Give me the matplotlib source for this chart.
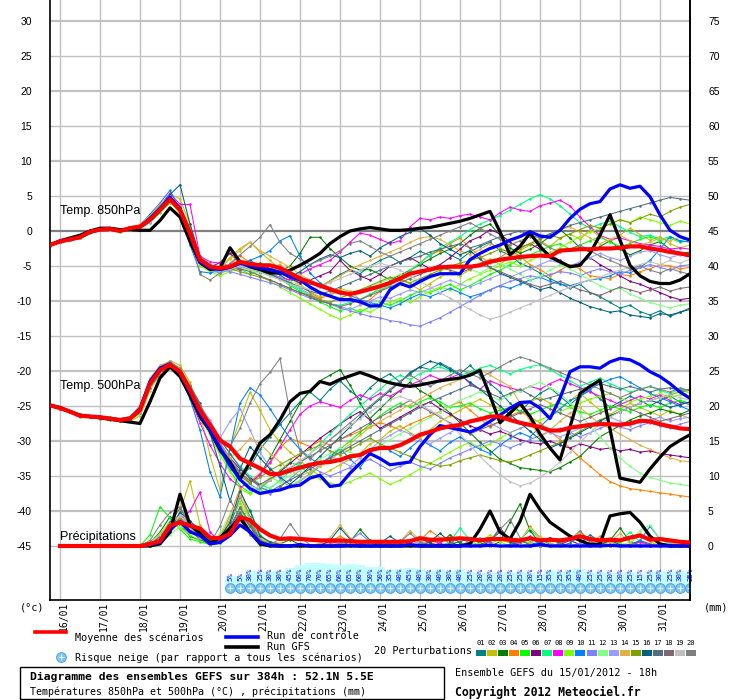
import matplotlib
matplotlib.use("Agg")
import matplotlib.pyplot as plt
from matplotlib.lines import Line2D
from matplotlib.patches import Rectangle
import matplotlib.transforms as mtransforms

# ---------------- DATA ----------------
hours = list(range(0, 385, 6))          # 15/01 18h + 0..384h
hours_p = hours[1:]                      # precipitation starts at +6h
day_labels = ["16/01", "17/01", "18/01", "19/01", "20/01", "21/01", "22/01", "23/01",
              "24/01", "25/01", "26/01", "27/01", "28/01", "29/01", "30/01", "31/01"]
day_hours = [6, 30, 54, 78, 102, 126, 150, 174, 198, 222, 246, 270, 294, 318, 342, 366]

snow_hours = list(range(108, 385, 6))
snow_pct = [5, 5, 30, 25, 30, 30, 45, 60, 70, 70, 65, 60, 65, 60, 50, 50, 35, 40, 45, 40,
            30, 40, 30, 40, 25, 20, 20, 20, 25, 25, 20, 15, 35, 25, 35, 40, 25, 25, 20, 20,
            25, 15, 25, 30, 25, 30, 25]

pert_colors = ['#008080', '#c0c000', '#008000', '#ff8000', '#00ff00', '#800080', '#00ff80',
               '#ff00ff', '#80ff00', '#0080ff', '#8080ff', '#80ff80', '#9a9aff', '#e0b040',
               '#80a000', '#006080', '#507080', '#806870', '#c0c0c0', '#808080']

# ---- 850 hPa temperature (°C)
t850_mean = [-2.0,-1.5,-1.2,-0.9,-0.1,0.2,0.3,0.0,0.4,0.6,
             1.6,3.0,4.5,3.0,-0.3,-4.1,-5.1,-5.3,-5.1,-4.4,
             -4.7,-4.9,-4.9,-5.3,-6.0,-6.8,-7.3,-7.8,-8.3,-8.8,
             -9.0,-8.7,-8.3,-7.9,-7.4,-6.8,-6.1,-5.8,-5.5,-5.2,
             -5.1,-5.1,-5.1,-4.9,-4.4,-4.1,-3.9,-3.7,-3.6,-3.5,
             -3.6,-2.8,-2.7,-2.6,-2.6,-2.5,-2.5,-2.4,-2.2,-2.2,
             -2.5,-2.7,-3.0,-3.2,-3.5]
t850_ctrl = [-2.0,-1.5,-1.2,-0.9,-0.2,0.2,0.3,0.0,0.4,0.6,
             1.8,3.2,4.8,3.2,-0.5,-4.5,-5.3,-5.5,-5.2,-4.6,
             -5.0,-5.3,-5.5,-5.9,-6.5,-7.0,-8.0,-8.8,-9.3,-9.8,
             -9.8,-10.1,-10.7,-10.7,-8.4,-7.5,-8.0,-7.2,-6.5,-6.1,
             -6.1,-6.1,-4.1,-3.2,-2.5,-2.0,-1.3,-0.8,-0.1,-0.7,
             -0.9,0.1,1.8,3.1,3.9,4.2,6.0,6.6,6.1,6.4,
             4.9,2.3,0.1,-0.8,-1.3]
t850_gfs = [-2.0,-1.4,-1.0,-0.6,0.0,0.4,0.4,0.2,0.2,0.1,
            0.1,1.5,3.3,2.0,-1.5,-4.5,-5.5,-5.3,-2.4,-4.4,
            -5.1,-5.5,-6.0,-6.0,-5.6,-4.9,-4.1,-3.2,-1.8,-0.8,
            0.0,0.3,0.5,0.3,0.1,0.1,0.2,0.4,0.5,0.8,
            1.1,1.4,1.8,2.3,2.8,-0.1,-3.4,-2.2,-0.3,-2.2,
            -3.7,-4.4,-5.1,-4.9,-3.2,-0.6,2.3,-1.3,-4.9,-6.4,
            -7.2,-7.5,-7.5,-7.0,-6.1]

p01_t850 = [-2.0,-1.4,-1.1,-0.8,0.0,0.3,0.4,0.1,0.5,0.8,
            2.0,3.6,5.0,3.4,0.2,-4.2,-5.0,-5.5,-5.2,-4.6,
            -4.2,-5.0,-5.6,-6.3,-7.2,-6.5,-7.4,-8.0,-7.1,-6.2,
            -5.5,-6.1,-5.0,-4.2,-3.6,-4.5,-3.8,-2.9,-3.5,-2.6,
            -3.4,-4.1,-3.0,-2.2,-1.6,-2.8,-3.5,-4.6,-5.2,-6.0,
            -6.8,-7.5,-8.2,-7.6,-8.8,-9.4,-10.2,-11.0,-10.6,-11.5,
            -12.0,-11.4,-12.2,-11.6,-11.0]
p02_t850 = [-2.1,-1.6,-1.3,-1.0,-0.3,0.1,0.2,0.1,0.3,0.5,
            1.5,3.2,5.3,4.6,1.0,-3.5,-4.8,-5.2,-3.8,-2.5,
            -1.6,-3.0,-4.2,-5.5,-6.6,-7.8,-8.7,-9.4,-9.0,-8.2,
            -8.6,-9.8,-9.2,-8.0,-7.4,-6.8,-7.6,-8.4,-7.5,-6.6,
            -5.8,-6.4,-5.5,-4.6,-4.0,-4.8,-3.6,-2.8,-2.0,-1.4,
            -2.2,-1.0,-0.4,-1.2,0.2,-0.8,-1.6,-0.6,0.4,-0.5,
            -1.3,-0.8,-1.8,-2.4,-2.0]
p03_t850 = [-2.0,-1.5,-1.1,-0.9,-0.2,0.1,0.3,0.0,0.3,0.6,
            1.3,2.8,4.2,2.8,-1.0,-4.8,-5.6,-5.8,-5.0,-4.5,
            -5.0,-4.6,-5.4,-5.8,-5.0,-3.2,-0.9,-0.9,-2.5,-3.8,
            -5.0,-5.6,-5.5,-6.2,-7.0,-6.3,-5.6,-4.8,-4.0,-3.2,
            -2.6,-1.8,-0.6,0.4,1.0,-0.6,-2.4,-3.2,-2.6,-1.8,
            -0.8,0.2,-1.0,-2.4,-3.0,-2.2,-1.4,-2.6,-3.4,-2.8,
            -2.0,-1.5,-2.6,-3.2,-3.0]
p04_t850 = [-1.9,-1.3,-1.0,-0.7,0.1,0.4,0.5,0.2,0.6,0.9,
            2.2,3.4,4.4,2.6,-1.2,-5.0,-5.4,-5.6,-4.8,-3.5,
            -4.5,-6.0,-5.5,-4.8,-6.2,-7.6,-8.8,-9.6,-9.2,-8.4,
            -9.4,-10.4,-9.8,-8.6,-7.6,-6.4,-5.8,-4.5,-3.4,-2.8,
            -1.8,-1.0,-2.4,-3.6,-4.6,-3.8,-2.8,-3.6,-4.8,-5.5,
            -6.4,-5.6,-4.8,-5.4,-6.4,-6.6,-6.8,-6.2,-6.4,-5.8,
            -5.4,-4.8,-5.0,-5.4,-5.2]
p05_t850 = [-2.0,-1.5,-1.2,-1.0,-0.3,0.1,0.2,-0.1,0.2,0.4,
            1.2,2.6,4.0,3.2,0.5,-3.8,-5.6,-6.0,-5.5,-5.0,
            -5.4,-5.8,-6.2,-6.8,-7.8,-8.6,-9.4,-10.2,-10.8,-11.4,
            -11.0,-11.6,-10.8,-10.2,-10.6,-10.0,-9.2,-8.6,-8.8,-8.2,
            -7.6,-8.4,-7.8,-7.0,-6.2,-5.6,-4.8,-4.0,-3.4,-2.8,
            -2.2,-1.8,-2.6,-2.0,-1.4,-0.8,-1.6,-2.2,-1.8,-1.2,
            -0.8,-1.4,-1.0,-1.6,-1.4]
p06_t850 = [-2.0,-1.4,-1.2,-0.8,-0.1,0.2,0.4,0.1,0.5,0.7,
            1.8,3.3,4.8,3.6,-0.4,-4.2,-5.2,-4.5,-3.2,-4.6,
            -4.8,-5.2,-5.6,-6.0,-6.8,-7.4,-7.0,-6.4,-5.8,-4.2,
            -5.6,-6.4,-7.0,-6.2,-5.0,-4.4,-3.8,-4.6,-5.4,-4.8,
            -3.8,-2.6,-1.4,-0.8,0.2,-0.4,-1.6,-2.4,-1.8,-2.6,
            -3.4,-4.2,-5.0,-4.6,-3.8,-4.8,-5.6,-6.4,-7.2,-7.6,
            -8.2,-8.8,-9.4,-9.8,-9.6]
p07_t850 = [-2.1,-1.6,-1.3,-0.9,-0.2,0.1,0.2,0.0,0.4,0.6,
            1.4,3.0,4.6,3.2,0.0,-4.4,-5.4,-5.8,-5.6,-5.4,
            -6.2,-5.6,-6.0,-6.6,-7.6,-8.4,-9.2,-10.0,-10.4,-10.6,
            -10.2,-9.8,-9.0,-8.4,-7.8,-6.8,-5.6,-4.6,-3.4,-2.4,
            -1.6,-0.8,0.2,1.0,1.6,2.2,3.0,3.8,4.6,5.2,
            4.6,3.6,2.4,1.2,0.4,1.0,1.4,0.6,-0.2,-0.8,
            -0.6,-1.2,-0.8,-1.4,-1.0]
p08_t850 = [-2.0,-1.5,-1.1,-0.8,-0.1,0.3,0.4,0.2,0.4,0.7,
            1.9,3.6,5.4,3.8,3.8,-3.6,-4.4,-4.6,-5.0,-5.6,
            -5.0,-5.8,-6.2,-6.6,-7.0,-6.2,-5.4,-4.8,-4.2,-3.0,
            -1.6,-0.3,-0.6,-1.2,-1.8,-1.4,0.6,1.8,1.6,2.0,
            1.8,2.2,2.4,2.0,1.6,2.6,3.4,3.0,2.8,3.6,
            4.0,4.4,3.6,2.0,0.6,-0.6,-1.2,-1.0,-1.4,-1.8,
            -2.0,-2.2,-2.6,-2.4,-2.6]
p09_t850 = [-2.0,-1.6,-1.2,-1.0,-0.2,0.2,0.3,-0.1,0.3,0.5,
            1.5,3.1,4.3,2.4,-1.4,-5.0,-5.8,-6.4,-5.8,-5.2,
            -5.6,-6.4,-7.2,-8.0,-8.8,-9.6,-10.4,-11.2,-12.0,-12.6,
            -12.0,-11.2,-11.6,-10.8,-10.2,-9.6,-10.2,-9.4,-8.6,-8.0,
            -8.4,-7.6,-6.8,-6.2,-5.6,-5.0,-4.4,-5.0,-4.2,-3.6,
            -3.0,-2.4,-1.6,-0.8,-0.2,0.4,1.0,1.6,1.2,2.0,
            1.6,1.2,0.8,1.4,1.0]
p10_t850 = [-2.0,-1.5,-1.2,-0.9,-0.1,0.2,0.3,0.1,0.4,0.8,
            2.4,4.0,5.8,3.0,-2.0,-5.8,-6.0,-5.6,-5.2,-4.8,
            -4.2,-3.6,-2.8,-1.4,-0.7,-3.6,-6.0,-7.4,-8.2,-8.8,
            -9.2,-9.8,-10.2,-10.6,-11.0,-10.4,-9.6,-9.0,-9.4,-8.8,
            -8.2,-8.8,-9.4,-9.0,-8.4,-7.8,-8.2,-7.6,-7.0,-6.6,
            -7.2,-7.6,-7.8,-7.4,-7.0,-6.8,-6.4,-5.8,-6.0,-5.2,
            -4.2,-2.6,-0.8,-1.4,-1.6]
p11_t850 = [-1.9,-1.4,-1.0,-0.8,0.1,0.3,0.4,0.1,0.5,0.7,
            1.7,3.2,4.6,3.4,0.2,-4.0,-5.0,-5.4,-5.8,-6.2,
            -6.6,-7.0,-7.4,-7.8,-8.4,-9.0,-9.6,-10.0,-10.4,-11.0,
            -11.4,-11.8,-12.2,-12.4,-12.8,-13.0,-13.4,-13.6,-13.0,-12.4,
            -11.6,-10.8,-10.0,-9.2,-8.4,-7.8,-7.2,-6.8,-6.4,-6.6,
            -6.2,-5.8,-6.0,-6.4,-5.8,-5.4,-5.8,-6.2,-5.6,-5.2,
            -4.8,-5.2,-5.6,-5.0,-4.8]
p12_t850 = [-2.0,-1.5,-1.2,-0.9,-0.2,0.1,0.3,0.0,0.4,0.6,
            1.6,3.0,4.2,2.6,-1.0,-4.6,-5.4,-5.6,-5.4,-5.2,
            -5.6,-6.0,-6.4,-6.8,-7.2,-7.8,-8.4,-9.0,-9.2,-9.6,
            -9.0,-8.6,-8.0,-7.4,-6.8,-6.2,-6.8,-7.4,-6.6,-5.8,
            -5.2,-4.6,-5.4,-6.0,-5.2,-4.6,-5.4,-6.2,-7.0,-6.4,
            -5.6,-4.8,-5.4,-6.2,-7.0,-7.8,-8.4,-8.2,-9.0,-9.6,
            -10.2,-10.6,-11.0,-10.6,-10.4]
p13_t850 = [-2.1,-1.6,-1.3,-1.0,-0.2,0.1,0.3,0.0,0.3,0.5,
            1.2,2.8,4.4,3.0,-0.6,-4.4,-5.6,-6.0,-5.6,-5.0,
            -5.2,-5.6,-6.0,-6.6,-7.4,-8.2,-9.0,-9.8,-10.4,-10.8,
            -11.2,-10.6,-10.0,-9.4,-9.6,-9.0,-8.4,-8.8,-8.2,-7.6,
            -7.0,-7.6,-8.0,-7.4,-6.8,-6.2,-6.6,-6.0,-5.4,-4.8,
            -4.2,-4.6,-5.0,-4.4,-3.8,-3.2,-3.8,-4.2,-3.6,-3.0,
            -2.8,-3.4,-3.8,-3.4,-3.6]
p14_t850 = [-2.0,-1.5,-1.1,-0.8,0.0,0.3,0.5,0.2,0.5,0.9,
            2.2,3.8,5.0,3.6,0.6,-3.8,-5.0,-5.4,-4.0,-2.8,
            -1.6,-2.8,-3.6,-4.4,-5.2,-6.2,-7.0,-7.8,-7.2,-6.4,
            -5.6,-4.8,-4.2,-3.6,-3.0,-2.4,-1.6,-1.0,-0.8,-1.2,
            -2.0,-2.8,-3.4,-2.6,-1.8,-2.4,-3.2,-2.6,-1.8,-1.0,
            -0.4,0.2,0.6,-0.2,-1.0,-1.8,-1.2,-0.6,-1.4,-2.0,
            -1.6,-1.0,-1.4,-0.8,-1.2]
p15_t850 = [-2.0,-1.5,-1.2,-0.9,-0.1,0.2,0.3,0.0,0.3,0.6,
            1.6,3.0,4.4,3.0,-0.4,-4.2,-5.2,-5.6,-5.4,-5.8,
            -6.2,-6.6,-7.0,-7.6,-8.2,-8.8,-9.2,-9.8,-10.2,-9.6,
            -9.0,-8.4,-7.8,-7.2,-6.6,-7.0,-7.4,-6.8,-6.2,-5.6,
            -5.0,-4.6,-4.2,-3.8,-3.2,-2.6,-3.0,-2.4,-1.8,-1.2,
            -0.6,-1.0,-0.4,0.2,0.8,0.4,1.0,1.6,1.2,1.8,
            2.4,2.0,2.8,3.4,3.8]
p16_t850 = [-2.0,-1.4,-1.1,-0.8,0.0,0.3,0.5,0.2,0.5,0.7,
            1.8,3.4,5.2,6.6,1.0,-3.8,-4.8,-5.4,-5.0,-4.6,
            -5.2,-5.8,-5.4,-6.0,-6.6,-5.8,-4.8,-4.0,-3.4,-3.8,
            -3.2,-2.8,-3.6,-2.4,-1.6,-0.8,-0.2,0.4,-0.6,-1.8,
            -2.6,-3.4,-2.8,-4.0,-5.2,-6.0,-6.6,-7.2,-7.8,-8.4,
            -8.0,-8.8,-9.6,-10.2,-10.8,-11.2,-11.6,-11.4,-12.0,-12.2,
            -12.4,-11.8,-12.0,-11.6,-11.2]
p17_t850 = [-2.0,-1.5,-1.2,-0.9,-0.2,0.2,0.3,0.1,0.4,0.6,
            1.6,3.2,4.6,3.2,0.0,-4.2,-5.2,-5.4,-5.2,-5.0,
            -5.4,-5.8,-6.2,-6.8,-7.4,-8.0,-8.6,-9.0,-8.6,-8.0,
            -7.4,-6.8,-6.2,-5.6,-5.0,-4.4,-4.0,-3.6,-3.0,-2.6,
            -2.2,-1.8,-2.4,-2.0,-1.4,-0.8,-0.4,0.0,-0.6,-1.0,
            -0.4,0.2,0.8,1.2,1.6,2.0,2.4,2.8,3.2,3.6,
            4.0,4.4,4.8,4.6,4.4]
p18_t850 = [-2.0,-1.5,-1.1,-0.9,-0.1,0.2,0.4,0.1,0.4,0.7,
            1.7,3.1,4.6,3.4,0.2,-4.0,-5.0,-5.2,-5.0,-5.4,
            -5.8,-6.4,-7.0,-7.6,-8.2,-8.8,-9.4,-10.0,-10.4,-10.8,
            -10.4,-9.8,-9.2,-8.6,-8.0,-7.4,-6.8,-6.2,-5.6,-5.2,
            -5.6,-6.0,-5.4,-4.8,-5.2,-5.8,-6.4,-7.0,-7.6,-8.0,
            -7.6,-7.2,-7.8,-8.4,-8.8,-9.2,-8.6,-8.0,-8.4,-8.8,
            -8.4,-8.0,-8.6,-8.2,-8.0]
p19_t850 = [-2.0,-1.5,-1.2,-0.9,-0.2,0.1,0.2,0.0,0.3,0.5,
            1.4,2.8,4.2,2.8,-0.8,-4.4,-5.4,-5.8,-5.4,-5.0,
            -5.4,-5.8,-6.4,-7.0,-7.6,-8.0,-8.4,-8.0,-7.4,-6.8,
            -6.2,-5.6,-5.0,-4.6,-5.0,-5.6,-6.4,-7.2,-8.0,-8.8,
            -9.6,-10.4,-11.2,-12.0,-12.6,-12.2,-11.6,-11.0,-10.4,-9.8,
            -9.2,-8.6,-8.0,-7.4,-7.0,-6.6,-6.0,-5.6,-5.2,-4.8,
            -4.4,-4.8,-4.2,-4.6,-4.0]
p20_t850 = [-2.0,-1.4,-1.1,-0.7,0.0,0.3,0.5,0.2,0.6,0.8,
            2.0,3.6,5.0,3.4,-0.6,-6.2,-7.0,-6.0,-4.6,-3.4,
            -2.2,-0.9,0.9,-1.6,-3.2,-4.0,-4.8,-4.2,-3.6,-2.8,
            -1.8,-1.4,-2.2,-3.0,-3.6,-3.0,-2.4,-1.8,-1.2,-0.6,
            0.0,0.6,1.2,0.4,-0.4,-1.2,-2.0,-1.4,-0.8,-1.6,
            -2.4,-3.0,-2.6,-2.0,-2.8,-3.6,-4.2,-4.8,-5.4,-5.0,
            -5.6,-6.0,-5.4,-5.8,-6.2]

# ---- 500 hPa temperature (°C)
t500_mean = [-24.9,-25.3,-25.8,-26.4,-26.5,-26.6,-26.8,-27.0,-26.8,-25.6,
             -21.8,-19.9,-19.1,-20.1,-22.7,-25.6,-27.7,-29.9,-30.8,-32.5,
             -33.2,-33.9,-34.7,-34.7,-34.2,-33.8,-33.4,-33.1,-33.0,-32.7,
             -32.2,-32.0,-31.3,-31.0,-31.0,-30.6,-29.9,-29.1,-28.7,-28.2,
             -27.9,-27.7,-27.2,-26.9,-26.5,-26.5,-27.0,-27.4,-27.7,-28.0,
             -28.5,-28.5,-28.1,-27.9,-27.7,-27.6,-27.6,-27.7,-27.5,-27.1,
             -27.2,-27.6,-27.9,-28.2,-28.3]
t500_ctrl = [-24.9,-25.3,-25.8,-26.4,-26.5,-26.6,-26.8,-27.0,-26.8,-25.4,
             -21.5,-19.6,-19.0,-20.3,-23.0,-26.0,-28.5,-31.0,-33.5,-35.5,
             -36.8,-37.5,-37.2,-37.0,-36.5,-36.3,-35.3,-34.9,-36.5,-36.3,
             -34.6,-33.2,-31.8,-32.5,-33.4,-33.2,-33.0,-30.8,-29.1,-27.8,
             -28.1,-28.4,-28.7,-28.1,-27.2,-26.3,-25.3,-24.5,-24.4,-25.3,
             -26.8,-23.9,-20.1,-19.4,-19.4,-19.6,-18.7,-18.2,-18.4,-19.1,
             -20.1,-20.8,-21.8,-23.0,-23.9]
t500_gfs = [-24.9,-25.2,-25.8,-26.3,-26.5,-26.7,-26.9,-27.1,-27.3,-27.5,
            -24.4,-21.0,-19.4,-20.8,-23.5,-26.5,-28.5,-31.3,-33.0,-35.5,
            -33.0,-30.3,-29.1,-27.0,-24.4,-23.2,-22.9,-21.5,-21.9,-21.2,
            -20.7,-20.2,-20.7,-21.3,-21.7,-22.0,-22.2,-22.0,-21.7,-21.4,
            -21.2,-21.0,-20.6,-19.9,-23.5,-27.4,-26.0,-24.6,-26.5,-29.0,
            -31.0,-32.7,-28.0,-23.2,-22.2,-21.3,-28.3,-35.3,-35.6,-35.9,
            -34.0,-32.3,-30.8,-29.9,-29.1]

p01_t500 = [-24.9,-25.2,-25.7,-26.3,-26.4,-26.5,-26.6,-26.8,-26.5,-25.0,
            -21.2,-19.4,-18.8,-20.4,-23.6,-26.8,-28.8,-31.5,-33.6,-35.2,
            -33.8,-31.2,-29.4,-27.6,-26.0,-24.4,-23.0,-24.2,-22.6,-21.4,
            -22.8,-24.0,-22.4,-21.2,-20.4,-21.6,-20.2,-19.4,-19.8,-18.8,
            -19.6,-20.4,-19.2,-20.6,-21.8,-23.0,-24.6,-25.8,-24.4,-23.2,
            -22.4,-23.6,-24.8,-23.6,-22.8,-24.0,-25.2,-24.4,-23.6,-24.2,
            -25.0,-24.2,-23.6,-24.4,-24.8]
p02_t500 = [-25.0,-25.4,-25.9,-26.5,-26.6,-26.8,-27.0,-27.2,-27.2,-26.4,
            -22.8,-20.4,-18.5,-19.2,-21.6,-26.0,-32.0,-37.0,-31.0,-27.0,
            -23.0,-25.6,-28.4,-30.2,-31.6,-32.8,-34.0,-35.0,-34.2,-33.4,
            -32.6,-31.8,-30.4,-29.8,-28.6,-27.8,-28.8,-29.6,-28.4,-27.2,
            -26.4,-25.6,-24.8,-24.0,-24.8,-25.4,-26.2,-25.0,-24.4,-23.8,
            -24.6,-25.4,-24.2,-23.2,-24.4,-25.6,-26.2,-25.4,-24.6,-25.2,
            -25.8,-26.4,-25.6,-26.2,-26.8]
p03_t500 = [-24.9,-25.3,-25.8,-26.3,-26.5,-26.6,-26.9,-27.1,-26.9,-25.8,
            -22.2,-20.2,-19.4,-20.6,-23.4,-26.6,-29.0,-31.2,-32.8,-34.6,
            -36.0,-34.8,-32.4,-29.8,-27.2,-24.6,-22.8,-21.4,-20.6,-19.8,
            -22.0,-24.6,-26.8,-25.4,-24.0,-22.8,-21.6,-22.8,-23.6,-24.8,
            -26.0,-27.4,-28.8,-30.2,-31.4,-32.6,-33.2,-33.8,-34.0,-34.2,
            -34.4,-33.8,-33.0,-32.2,-30.8,-29.4,-28.6,-27.8,-27.0,-26.4,
            -26.0,-25.4,-25.8,-26.2,-25.6]
p04_t500 = [-24.9,-25.2,-25.7,-26.2,-26.4,-26.6,-26.7,-26.9,-26.6,-25.2,
            -21.4,-19.6,-18.9,-20.0,-22.4,-25.2,-27.6,-30.4,-32.8,-34.6,
            -35.8,-34.6,-33.2,-31.0,-29.6,-30.2,-30.8,-30.0,-30.6,-29.8,
            -29.2,-28.6,-28.0,-27.4,-27.8,-28.4,-27.6,-27.0,-26.4,-25.8,
            -25.0,-24.4,-25.6,-26.8,-28.0,-27.2,-26.4,-25.8,-26.6,-27.4,
            -28.6,-29.8,-31.0,-32.4,-33.6,-34.8,-35.8,-36.4,-36.8,-37.0,
            -37.2,-37.4,-37.6,-37.8,-38.0]
p05_t500 = [-25.0,-25.4,-25.9,-26.5,-26.6,-26.7,-26.9,-27.1,-26.9,-26.0,
            -22.4,-20.2,-19.2,-20.4,-22.8,-25.4,-28.2,-31.4,-34.2,-36.4,
            -37.4,-36.8,-35.6,-34.2,-33.0,-33.6,-34.8,-33.6,-32.4,-31.2,
            -30.0,-28.8,-27.6,-26.4,-25.4,-24.6,-25.2,-24.4,-23.8,-24.4,
            -25.2,-25.0,-24.6,-25.4,-26.0,-25.6,-25.2,-25.8,-26.2,-25.6,
            -25.0,-24.6,-25.2,-25.8,-26.2,-25.6,-25.0,-25.4,-25.8,-25.2,
            -24.8,-25.2,-24.6,-24.2,-24.6]
p06_t500 = [-24.9,-25.3,-25.8,-26.4,-26.5,-26.6,-26.8,-27.0,-26.7,-25.4,
            -21.6,-19.8,-19.0,-20.2,-22.6,-25.8,-28.0,-30.6,-32.4,-34.0,
            -35.2,-36.4,-35.6,-34.4,-33.2,-32.0,-30.8,-29.6,-28.6,-27.6,
            -26.6,-25.8,-27.0,-28.2,-27.4,-26.6,-25.8,-25.0,-24.4,-25.4,
            -26.2,-27.0,-27.8,-28.4,-29.0,-28.6,-29.2,-29.8,-30.2,-30.4,
            -30.0,-30.6,-31.0,-30.4,-30.8,-31.2,-31.0,-31.4,-31.2,-31.6,
            -31.4,-31.8,-32.0,-32.2,-32.4]
p07_t500 = [-24.9,-25.3,-25.8,-26.4,-26.6,-26.7,-26.9,-27.0,-26.8,-25.5,
            -21.6,-19.6,-18.8,-19.8,-22.4,-25.2,-27.4,-29.8,-31.8,-33.6,
            -35.0,-36.2,-36.8,-35.6,-34.4,-33.2,-31.8,-30.4,-29.0,-27.6,
            -26.2,-25.0,-23.8,-22.6,-21.4,-20.6,-21.2,-20.4,-19.8,-19.4,
            -20.0,-20.6,-20.2,-19.6,-19.2,-19.8,-20.4,-19.8,-19.4,-19.1,
            -19.8,-20.6,-21.4,-22.2,-21.6,-21.0,-21.8,-22.4,-23.0,-22.6,
            -22.2,-22.8,-23.2,-22.6,-22.8]
p08_t500 = [-24.9,-25.2,-25.7,-26.3,-26.4,-26.6,-26.8,-26.9,-26.6,-25.3,
            -21.4,-19.6,-18.9,-20.2,-23.8,-27.4,-30.6,-33.2,-35.4,-36.6,
            -36.0,-34.8,-33.0,-30.8,-28.4,-26.2,-25.0,-24.4,-24.8,-25.2,
            -24.2,-23.4,-24.0,-23.2,-23.6,-22.8,-22.0,-21.4,-20.6,-21.2,
            -21.0,-20.4,-21.8,-22.6,-21.4,-22.0,-22.4,-22.8,-22.2,-22.6,
            -21.8,-21.2,-21.8,-22.4,-23.0,-23.6,-24.2,-24.8,-24.2,-23.6,
            -24.0,-23.4,-24.2,-24.8,-24.4]
p09_t500 = [-25.0,-25.4,-25.9,-26.4,-26.6,-26.7,-26.9,-27.1,-26.9,-25.9,
            -22.2,-20.0,-19.2,-20.6,-23.2,-26.4,-29.2,-32.0,-34.4,-36.8,
            -37.6,-36.4,-35.2,-35.8,-36.4,-35.6,-34.8,-35.4,-36.0,-36.4,
            -35.8,-35.2,-34.6,-35.4,-36.2,-35.6,-34.8,-34.0,-33.2,-32.4,
            -31.6,-30.8,-30.2,-31.0,-30.4,-29.6,-28.8,-28.2,-27.6,-27.0,
            -26.4,-25.8,-25.2,-24.6,-24.0,-23.6,-23.2,-23.8,-24.4,-24.0,
            -23.6,-23.2,-23.8,-23.4,-23.0]
p10_t500 = [-24.9,-25.3,-25.8,-26.3,-26.5,-26.6,-26.8,-27.0,-26.7,-25.4,
            -21.6,-19.8,-19.2,-20.8,-24.0,-28.4,-34.4,-38.0,-31.2,-24.6,
            -22.4,-23.4,-25.4,-27.6,-29.6,-31.2,-32.4,-33.4,-32.2,-31.0,
            -32.6,-33.8,-31.8,-30.6,-31.4,-32.2,-31.0,-29.8,-30.6,-31.4,
            -30.2,-29.4,-30.4,-31.2,-31.8,-30.6,-29.6,-28.8,-29.4,-28.0,
            -26.6,-25.4,-24.2,-23.6,-22.6,-21.8,-21.2,-20.8,-21.6,-22.4,
            -23.2,-23.8,-24.4,-25.0,-25.6]
p11_t500 = [-24.9,-25.2,-25.7,-26.3,-26.4,-26.5,-26.7,-26.9,-26.6,-25.2,
            -21.2,-19.4,-18.6,-19.8,-22.4,-25.4,-27.8,-30.2,-32.4,-34.4,
            -36.2,-37.0,-37.6,-36.6,-35.4,-34.2,-33.6,-34.4,-35.0,-34.4,
            -33.8,-33.2,-32.6,-33.4,-34.2,-33.6,-33.0,-33.6,-34.0,-33.2,
            -32.4,-31.8,-31.2,-30.6,-30.0,-30.4,-31.0,-30.4,-29.8,-29.2,
            -28.6,-28.2,-28.8,-29.4,-28.8,-28.2,-27.6,-28.0,-28.4,-27.8,
            -27.4,-27.8,-28.2,-27.6,-27.2]
p12_t500 = [-25.0,-25.4,-25.9,-26.5,-26.6,-26.7,-26.9,-27.1,-27.0,-26.2,
            -22.6,-20.6,-19.6,-20.8,-23.2,-26.2,-28.6,-30.8,-32.8,-34.8,
            -36.4,-37.2,-36.6,-35.8,-35.0,-34.2,-33.4,-32.6,-31.8,-31.0,
            -31.6,-32.2,-31.4,-30.6,-29.8,-29.0,-28.2,-27.4,-26.6,-25.8,
            -25.0,-24.2,-23.6,-23.0,-23.6,-24.2,-23.4,-22.8,-22.2,-21.6,
            -22.4,-23.2,-24.6,-26.2,-27.8,-29.4,-31.0,-32.4,-33.6,-34.6,
            -35.2,-35.6,-36.0,-36.2,-36.4]
p13_t500 = [-24.9,-25.3,-25.8,-26.4,-26.5,-26.7,-26.9,-27.0,-26.8,-25.7,
            -22.0,-20.0,-19.2,-20.2,-22.6,-25.0,-27.0,-29.6,-27.2,-25.4,
            -28.4,-31.6,-33.8,-35.4,-36.6,-35.8,-34.6,-33.4,-32.2,-32.8,
            -33.6,-32.4,-31.2,-30.0,-29.2,-28.4,-29.0,-29.8,-30.4,-29.6,
            -28.8,-28.0,-27.2,-26.6,-27.4,-28.2,-28.8,-28.2,-27.6,-28.2,
            -28.8,-29.4,-28.8,-28.2,-27.6,-27.0,-26.6,-27.2,-27.8,-27.4,
            -27.0,-26.6,-27.2,-26.8,-26.6]
p14_t500 = [-24.9,-25.2,-25.7,-26.2,-26.4,-26.6,-26.8,-26.9,-26.5,-25.0,
            -21.0,-19.2,-18.6,-20.0,-22.8,-26.2,-28.6,-30.6,-32.4,-31.2,
            -29.6,-30.4,-31.8,-33.0,-34.2,-35.0,-34.4,-33.6,-32.8,-31.6,
            -30.4,-29.2,-28.0,-27.2,-26.4,-25.6,-24.8,-24.0,-23.2,-22.4,
            -21.8,-21.2,-20.4,-19.8,-20.6,-21.4,-22.2,-24.6,-27.2,-29.6,
            -28.4,-27.2,-26.0,-25.2,-26.4,-27.6,-28.2,-29.0,-29.8,-30.6,
            -31.2,-31.8,-32.4,-32.8,-33.0]
p15_t500 = [-25.0,-25.4,-25.9,-26.4,-26.6,-26.8,-27.0,-27.1,-26.9,-25.8,
            -22.0,-20.2,-19.4,-20.6,-23.0,-25.8,-28.4,-31.0,-33.2,-35.0,
            -36.0,-35.2,-34.2,-33.4,-32.6,-31.8,-31.2,-30.6,-31.4,-32.0,
            -31.2,-30.4,-29.6,-30.4,-31.0,-31.6,-32.2,-32.8,-33.2,-33.6,
            -33.4,-32.8,-32.4,-32.0,-32.4,-32.8,-33.0,-32.6,-32.0,-31.4,
            -30.8,-30.2,-29.4,-28.6,-27.8,-27.0,-26.4,-25.8,-25.2,-24.6,
            -24.2,-23.8,-23.4,-23.0,-22.8]
p16_t500 = [-24.9,-25.3,-25.8,-26.3,-26.5,-26.6,-26.8,-27.0,-26.7,-25.4,
            -21.4,-19.6,-19.0,-20.0,-22.2,-24.6,-28.8,-33.6,-38.6,-34.0,
            -30.8,-32.4,-34.0,-35.2,-36.2,-35.0,-33.6,-32.2,-30.8,-29.4,
            -28.0,-26.6,-25.2,-24.0,-22.8,-21.6,-20.4,-19.4,-18.6,-19.0,
            -19.8,-20.6,-21.6,-22.6,-23.8,-25.0,-26.2,-27.4,-28.6,-29.8,
            -31.0,-30.4,-29.6,-28.8,-28.0,-27.2,-26.4,-25.8,-25.2,-24.6,
            -24.2,-24.6,-25.2,-24.8,-24.4]
p17_t500 = [-24.9,-25.3,-25.8,-26.4,-26.5,-26.7,-26.9,-27.0,-26.8,-25.6,
            -21.8,-19.8,-19.0,-20.2,-22.6,-25.4,-27.6,-29.8,-31.8,-33.8,
            -35.4,-36.6,-37.2,-36.4,-35.6,-34.8,-34.0,-33.2,-32.4,-31.6,
            -30.8,-30.0,-29.2,-28.4,-27.6,-26.8,-26.0,-25.2,-24.4,-23.8,
            -23.2,-22.6,-22.0,-22.6,-23.2,-23.8,-23.2,-22.6,-23.4,-24.2,
            -23.8,-23.4,-23.0,-22.6,-22.2,-21.8,-22.2,-22.6,-22.2,-22.6,
            -23.0,-22.6,-22.4,-22.8,-22.6]
p18_t500 = [-25.0,-25.4,-25.9,-26.4,-26.6,-26.7,-26.9,-27.1,-26.9,-26.0,
            -22.4,-20.4,-19.4,-20.4,-22.8,-25.6,-28.2,-30.6,-32.8,-34.6,
            -35.6,-36.2,-35.4,-34.6,-33.8,-33.0,-32.2,-31.4,-30.6,-29.8,
            -29.0,-28.2,-27.4,-26.6,-25.8,-25.0,-24.2,-25.0,-25.8,-26.6,
            -27.4,-28.2,-29.0,-28.4,-27.8,-27.2,-26.6,-26.0,-25.4,-24.8,
            -25.4,-26.0,-26.6,-27.2,-26.6,-26.0,-25.4,-24.8,-25.4,-26.0,
            -26.6,-27.2,-26.8,-26.4,-26.0]
p19_t500 = [-24.9,-25.3,-25.8,-26.4,-26.6,-26.7,-26.9,-27.0,-26.9,-25.9,
            -22.2,-20.2,-19.2,-20.4,-22.8,-25.8,-28.4,-31.0,-33.4,-35.6,
            -37.0,-36.4,-35.6,-34.8,-33.8,-32.8,-31.8,-30.8,-29.8,-28.8,
            -27.8,-26.8,-25.8,-25.0,-24.2,-23.6,-24.2,-24.8,-25.6,-26.4,
            -27.6,-29.0,-30.6,-32.2,-33.6,-34.8,-35.8,-36.4,-36.0,-35.2,
            -34.2,-33.0,-31.6,-30.2,-28.8,-27.6,-26.6,-25.8,-25.2,-24.6,
            -24.2,-23.8,-23.4,-23.8,-24.2]
p20_t500 = [-24.9,-25.2,-25.7,-26.3,-26.4,-26.5,-26.7,-26.9,-26.6,-25.1,
            -21.2,-19.4,-18.7,-19.6,-22.0,-24.8,-27.4,-29.6,-30.8,-28.2,
            -24.6,-21.8,-20.2,-18.2,-26.0,-31.4,-32.6,-31.2,-29.8,-28.6,
            -27.4,-26.2,-25.0,-23.8,-22.6,-21.4,-20.6,-21.4,-22.2,-21.4,
            -20.6,-19.8,-20.4,-21.0,-20.2,-19.4,-18.6,-18.0,-18.4,-19.0,
            -19.6,-20.2,-20.8,-21.4,-22.0,-22.6,-23.2,-23.8,-23.2,-22.6,
            -22.2,-22.6,-23.0,-22.4,-22.8]

# ---- 6-hourly precipitation (mm), from +6h
pr_mean = [0,0,0,0,0,0,0,0,0,
           0.3,0.7,2.9,3.4,2.9,2.5,1.2,1.1,1.7,4.1,3.7,2.4,
           1.5,1.0,1.1,1.0,0.9,0.8,0.8,0.8,0.7,0.6,
           0.6,0.6,0.6,0.6,0.7,1.1,0.9,0.9,1.0,1.1,
           1.0,0.8,1.0,1.0,0.9,0.8,1.1,0.8,0.9,0.8,
           1.0,1.4,1.0,0.8,0.9,0.8,1.2,1.5,0.9,1.0,
           0.8,0.6,0.5]
pr_ctrl = [0,0,0,0,0,0,0,0,0,
           0.2,0.5,2.5,3.5,2.0,1.5,0.3,0.5,1.5,3.0,2.0,0.5,
           0.1,0,0,0.2,0,0,0,0,0.1,0,
           0,0,0,0,0.2,0,0,0,0,0,
           0,0,0.1,0,0,0,0,0.2,0,0,
           0,0,0,0,0.1,0,0,0,0,0,
           0,0,0]
pr_gfs = [0,0,0,0,0,0,0,0,0,
          0,0.3,2.0,7.4,3.0,1.8,0.4,1.2,2.5,4.0,2.0,0.3,
          0,0,0,0,0,0,0,0,0,0,
          0,0,0,0,0,0,0,0,0,0,
          0.3,2.4,5.0,2.0,1.0,3.5,7.4,5.2,3.4,2.4,
          1.4,0.8,0.2,0.3,4.3,4.6,4.8,3.4,1.4,0.3,
          0,0,0]

p01_pr = [0,0,0,0,0,0,0,0,0, 0.2,1.2,3.0,4.5,2.2,1.0,0.4,0.8,2.4,5.6,3.0,0.6,
          0.2,0,0,0.3,0,0,0,0.2,0,0, 0,0,0.4,0.8,0.2,0,0,0,0.3,0.6,
          1.2,0.4,0,0,0.2,0.8,2.4,1.0,0.2,0, 0,0.4,1.6,0.6,0,0,0.2,0.8,0.3,0, 0,0.2,0]
p02_pr = [0,0,0,0,0,0,0,0,0, 0,0.6,2.4,5.0,9.3,3.0,0.6,1.4,3.2,6.2,2.6,0.4,
          0,0,0.2,0,0,0,0.4,0.2,0,0, 0,0,0,0.2,0.6,1.4,0.6,0,0,0.2,
          0,0,0.3,1.0,0.4,0,0,0.2,0,0, 0.4,2.0,0.8,0,0,0,0.3,1.8,0.6,0, 0,0.2,0]
p03_pr = [0,0,0,0,0,0,0,0,0, 0.4,2.0,4.2,3.0,1.4,0.8,0.2,0.6,2.0,4.4,2.2,0.2,
          0,0.3,0.9,0.2,0,0,0,0,0.6,2.4, 0.8,0,0,0,0.2,0,0,0.4,1.6,0.4,
          0,0,0,0.6,3.4,6.0,2.2,0.4,0,0, 0,0.2,0,0,0.8,2.6,0.6,0,0,0, 0,0.2,0]
p04_pr = [0,0,0,0,0,0,0,0,0, 0.6,1.6,2.4,3.2,2.0,1.2,0.2,1.0,4.4,8.2,4.0,1.0,
          0.4,0.2,0,0,0,0.2,0.6,1.4,0.6,0, 0,0,0.2,0,0,0.8,2.2,1.2,0.4,0,
          0,0.4,0,0,0,0.8,2.8,1.2,0.4,0, 0,0,0.4,1.4,0.6,0,0,0,0.2,0, 0,0,0.2]
p05_pr = [0,0,0,0,0,0,0,0,0, 1.6,5.6,4.0,2.4,1.0,0.6,0.2,0.4,1.6,4.0,5.2,1.6,
          0.4,0,0,0,0,0,0,0,0,0, 0,0,0,0,0.2,0,0,0,0,0,
          0,0,0,0,0,0.4,0.6,0,0,0, 0,0,0,0,0,0.2,0,0,0,0, 0,0,0]
p06_pr = [0,0,0,0,0,0,0,0,0, 0,0.4,2.0,3.4,2.6,1.4,0.6,1.2,2.6,4.0,2.6,0.8,
          0.2,0,0,0,0.2,0,0,0,0,0, 0,0,0,0,0.4,1.2,0.4,0,0,0,
          0,0,0.6,2.6,0.8,0,0,0,0,0.2, 0.8,0.2,0,0,0,0,0.2,0.6,0,0, 0,0,0]
p07_pr = [0,0,0,0,0,0,0,0,0, 0.2,1.0,2.6,4.0,3.2,1.6,0.4,0.6,2.2,5.0,3.6,0.8,
          0,0,0,0.2,0,0,0,0,0,0, 0,0,0,0.2,0,0,0,0,0.6,2.6,
          0.8,0,0,0,0,0,0,0.4,1.2,0.2, 0,0,0,0,0,0.6,2.0,0.6,0,0, 0,0,0]
p08_pr = [0,0,0,0,0,0,0,0,0, 0,0.8,2.8,3.6,5.0,7.7,2.0,0.6,2.4,4.8,2.0,0.4,
          0,0,0,0,0,0.2,0.6,0.4,0,0, 0,0,0,0,0,0.2,0.8,0.4,0,0,
          0,0,0.2,0,0,0.6,1.4,0.2,0,0, 0,0,0,0.2,0,0,0,0.6,0.2,0, 0,0,0]
p09_pr = [0,0,0,0,0,0,0,0,0, 0.4,1.8,3.6,2.6,1.6,0.8,0.2,1.4,3.8,6.4,3.8,1.0,
          0.2,0,0,0,0,0,0,0,0.2,0, 0,0,0,0,0,0,0,0,0,0,
          0,0.4,1.6,0.6,0,0,0,0,0,0, 0,0,0,0.4,1.2,0.4,0,0,0,0.2, 0.6,0.2,0]
p10_pr = [0,0,0,0,0,0,0,0,0, 0,0.6,2.2,4.0,2.4,1.2,0.2,0.6,3.0,7.0,4.2,0.8,
          0,0,0.2,0,0,0,0,0,0,0.2, 0,0,0,0,0,0.4,0,0,0,0,
          0,0,0,0,0,0,0.2,0.6,0,0, 0.4,1.4,0.6,0,0,0,0,0.8,2.8,1.0, 0.2,0,0]
p11_pr = [0,0,0,0,0,0,0,0,0, 0.2,1.4,3.0,4.6,3.0,1.6,0.6,1.0,2.2,4.2,3.0,0.6,
          0,0,0,0,0,0,0,0.2,0.8,1.8, 0.6,0,0,0,0,0,0,0,0,0.2,
          0.6,1.2,0.4,0,0,0,0,0,0,0, 0,0.4,1.2,0.4,0,0,0,0,0,0, 0,0,0]
p12_pr = [0,0,0,0,0,0,0,0,0, 0,0.4,1.6,2.8,2.2,1.2,0.4,1.8,4.6,5.2,2.4,0.4,
          0,0,0,0,0,0,0,0,0,0, 0,0.2,0.6,0.2,0,0,0,0,0,0,
          0,0,0,0,0.2,0.8,2.6,1.0,0,0, 0,0,0,0,0,0,0.6,2.2,3.0,1.0, 0.2,0,0]
p13_pr = [0,0,0,0,0,0,0,0,0, 0.2,1.2,3.2,4.4,2.8,1.4,0.4,0.8,2.6,4.6,3.2,0.8,
          0.2,0,0,0,0,0,0.2,0,0,0, 0,0,0,0,0.2,0.6,0.2,0,0,0,
          0,0,0,0,0,0,0,0.2,0,0, 0,0.2,0.6,0.2,0,0,0,0,0,0.2, 0.4,0,0]
p14_pr = [0,0,0,0,0,0,0,0,0, 0,0.6,2.6,4.2,3.4,1.8,0.6,1.6,3.8,7.2,4.0,1.2,
          0.6,0.4,0,0,0,0.4,1.2,3.0,1.2,0.2, 0,0,0,0.6,2.2,0.8,0.2,0,0,0,
          0,0,0,0,0,0,0.4,1.4,0.4,0, 0,0,0,0,0.6,1.8,0.4,0,0,0, 0.2,0.6,0.2]
p15_pr = [0,0,0,0,0,0,0,0,0, 0.2,1.0,2.8,3.8,2.6,1.2,0.2,0.6,2.0,4.6,3.0,0.6,
          0,0,0,0,0,0,0,0,0,0, 0,0,0,0,0,0,0,0,0,0,
          0,0,0,0,0,0,0.2,0,0,0, 0,0,0,0,0,0,0,0,0,0.2, 0,0,0]
p16_pr = [0,0,0,0,0,0,0,0,0, 0,0.8,2.4,4.8,3.6,2.2,0.8,1.2,3.4,7.8,5.0,1.4,
          0.6,0.2,0,0,0,0,0.8,2.6,1.0,0, 0,0.4,1.4,0.4,0,0,0.6,1.8,0.6,0,
          0,0.2,0.8,2.0,0.6,0,0,0.4,1.2,0.4, 0,0,0,0.2,0.8,0.2,0,0,0,0, 0.2,0,0]
p17_pr = [0,0,0,0,0,0,0,0,0, 0.2,1.4,3.4,5.4,3.0,1.6,0.4,0.8,2.4,4.8,2.8,0.6,
          0,0,0,0,0,0,0,0,0,0, 0,0,0,0,0,0,0,0.2,0,0,
          0,0,0,0,0.2,0.8,0.2,0,0,0, 0,0,0,0,0,0,0,0,0,0, 0,0,0]
p18_pr = [0,0,0,0,0,0,0,0,0, 0,0.6,2.2,3.6,2.4,1.0,0.2,1.2,2.8,5.4,3.4,0.8,
          0.2,0,0,0,0,0,0,0,0,0, 0,0,0,0,0,0,0,0,0.4,1.2,
          0.4,0,0,0,0,0,0,0,0,0, 0,0,0,0,0,0,0,0.2,0,0, 0,0,0]
p19_pr = [0,0,0,0,0,0,0,0,0, 0.4,1.6,3.2,4.4,2.6,1.2,0.2,0.6,1.8,3.6,2.4,0.4,
          0,0,0,0,0,0,0,0,0,0, 0,0,0,0,0,0,0,0,0,0,
          0,0,0,0,0,0,0,0,0,0, 0,0,0,0,0,0,0,0,0,0, 0,0,0]
p20_pr = [0,0,0,0,0,0,0,0,0, 0.8,3.0,4.8,5.6,3.0,1.4,0.4,2.8,6.6,4.0,1.6,0.6,
          0.2,1.0,3.2,1.2,0.2,0,0,0.4,1.0,0.4, 0,0,0,0.6,1.8,0.6,0,0,0,0,
          0,0,0.8,2.4,3.8,1.2,0,0,0,0.4, 0.8,2.2,0.6,0,0,0,0,0,0,0, 0,0,0]

t850_members = [p01_t850, p02_t850, p03_t850, p04_t850, p05_t850, p06_t850, p07_t850,
                p08_t850, p09_t850, p10_t850, p11_t850, p12_t850, p13_t850, p14_t850,
                p15_t850, p16_t850, p17_t850, p18_t850, p19_t850, p20_t850]
t500_members = [p01_t500, p02_t500, p03_t500, p04_t500, p05_t500, p06_t500, p07_t500,
                p08_t500, p09_t500, p10_t500, p11_t500, p12_t500, p13_t500, p14_t500,
                p15_t500, p16_t500, p17_t500, p18_t500, p19_t500, p20_t500]
pr_members = [p01_pr, p02_pr, p03_pr, p04_pr, p05_pr, p06_pr, p07_pr, p08_pr, p09_pr,
              p10_pr, p11_pr, p12_pr, p13_pr, p14_pr, p15_pr, p16_pr, p17_pr, p18_pr,
              p19_pr, p20_pr]

# ---------------- FIGURE ----------------
W, H = 740, 700
fig = plt.figure(figsize=(W / 100, H / 100), dpi=100)
fig.patch.set_facecolor('white')

# plot area in pixels: x 50..690, y 0..600
ax = fig.add_axes([50 / W, 100 / H, 640 / W, 600 / H])
Y_TOP = 231 / 7.0          # 0°C at y=231 px, 7 px per degree
Y_BOT = (231 - 600) / 7.0
ax.set_xlim(0, 384)
ax.set_ylim(Y_BOT, Y_TOP)
ax.set_facecolor('white')

MONO = 'DejaVu Sans Mono'
SANS = 'Liberation Sans'

# grid
for h in day_hours:
    ax.axvline(h, color='#c0c0c0', lw=1.0, zorder=0.5)
for lev in range(-45, 35, 5):
    if lev == 0:
        ax.axhline(lev, color='#808080', lw=1.6, zorder=0.6)
    elif lev % 10 == 0:
        ax.axhline(lev, color='#c0c0c0', lw=1.6, zorder=0.5)
    else:
        ax.axhline(lev, color='#c0c0c0', lw=1.0, zorder=0.5)

# spines / ticks
ax.spines['top'].set_visible(False)
for s in ['left', 'bottom', 'right']:
    ax.spines[s].set_linewidth(1.2)
    ax.spines[s].set_color('black')
ax.set_yticks(list(range(-45, 35, 5)))
ax.set_yticklabels([str(v) for v in range(-45, 35, 5)], fontsize=7.5, family=SANS)
ax.tick_params(axis='y', length=0, pad=13)
ax.set_xticks([])

# members
mk = dict(marker='o', ms=1.8, mew=0)
for col, ser in zip(pert_colors, t850_members):
    ax.plot(hours, ser, color=col, lw=0.75, zorder=2, **mk)
for col, ser in zip(pert_colors, t500_members):
    ax.plot(hours, ser, color=col, lw=0.75, zorder=2, **mk)

ax.plot(hours, t850_gfs, color='black', lw=2.3, zorder=3)
ax.plot(hours, t500_gfs, color='black', lw=2.3, zorder=3)
ax.plot(hours, t850_ctrl, color='#0000ff', lw=2.3, zorder=4)
ax.plot(hours, t500_ctrl, color='#0000ff', lw=2.3, zorder=4)
ax.plot(hours, t850_mean, color='#ff0000', lw=3.0, zorder=5)
ax.plot(hours, t500_mean, color='#ff0000', lw=3.0, zorder=5)

# precipitation on right axis (0 mm at -45 °C, 1 mm per degree)
ax2 = ax.twinx()
ax2.set_ylim(Y_BOT + 45, Y_TOP + 45)
ax2.set_xlim(0, 384)
for s in ['top', 'left', 'bottom']:
    ax2.spines[s].set_visible(False)
ax2.spines['right'].set_linewidth(1.2)
ax2.set_yticks(list(range(0, 80, 5)))
ax2.set_yticklabels([str(v) for v in range(0, 80, 5)], fontsize=7.5, family=SANS)
ax2.tick_params(axis='y', length=0, pad=13)
for col, ser in zip(pert_colors, pr_members):
    ax2.plot(hours_p, ser, color=col, lw=0.75, zorder=2, **mk)
ax2.plot(hours_p, pr_gfs, color='black', lw=2.3, zorder=3)
ax2.plot(hours_p, pr_ctrl, color='#0000ff', lw=2.3, zorder=4)
ax2.plot(hours_p, pr_mean, color='#ff0000', lw=3.0, zorder=5)

# in-plot labels
ax.text(6, (231 - 211) / 7.0, "Temp. 850hPa", fontsize=9, family=SANS, va='center', zorder=6)
ax.text(6, (231 - 386) / 7.0, "Temp. 500hPa", fontsize=9, family=SANS, va='center', zorder=6)
ax.text(6, (231 - 537) / 7.0, "Précipitations", fontsize=9, family=SANS, va='center', zorder=6)

# snow risk row
trans = ax.get_xaxis_transform()
def fy(ypix):
    return (600 - ypix) / 600.0
for h, p in zip(snow_hours, snow_pct):
    top = 577 - 0.2 * p
    ax.add_patch(Rectangle((h - 3, fy(592)), 6, fy(top) - fy(592), transform=trans,
                           facecolor='#c4ffff', edgecolor='none', zorder=1))
ax.plot(snow_hours, [fy(587.5)] * len(snow_hours), ls='none', marker='o', ms=7,
        mfc='#80c8f0', mec='#4f9ee8', mew=0.7, transform=trans, zorder=6)
ax.plot(snow_hours, [fy(587.5)] * len(snow_hours), ls='none', marker='+', ms=4,
        mec='white', mew=0.6, transform=trans, zorder=7)
for h, p in zip(snow_hours, snow_pct):
    ax.text(h, fy(581), f"{p}%", rotation=90, transform=trans, ha='center', va='bottom',
            fontsize=5.3, family=MONO, color='#0000ff', zorder=7)

# x day labels (rotated)
lab_tr = mtransforms.offset_copy(trans, fig=fig, x=3.5, y=-2, units='dots')
for h, lab in zip(day_hours, day_labels):
    ax.text(h, 0, lab, rotation=90, transform=lab_tr, ha='center', va='top',
            fontsize=7.0, family=MONO)

# ---------------- figure-level texts / legend ----------------
def fx(x):
    return x / W
def fyy(y):
    return 1 - y / H

fig.text(fx(20), fyy(607), "(°c)", fontsize=7.3, family=MONO, va='center')
fig.text(fx(704), fyy(607), "(mm)", fontsize=7.3, family=MONO, va='center')

fig.add_artist(Line2D([fx(35), fx(66)], [fyy(631.5), fyy(631.5)], color='#ff0000', lw=2.6,
                      transform=fig.transFigure))
fig.text(fx(75), fyy(637.5), "Moyenne des scénarios", fontsize=7.3, family=MONO, va='center')
fig.add_artist(Line2D([fx(226), fx(258)], [fyy(637), fyy(637)], color='#0000ff', lw=2.6,
                      transform=fig.transFigure))
fig.text(fx(267), fyy(636), "Run de contrôle", fontsize=7.3, family=MONO, va='center')
fig.add_artist(Line2D([fx(226), fx(258)], [fyy(647), fyy(647)], color='black', lw=2.6,
                      transform=fig.transFigure))
fig.text(fx(267), fyy(647), "Run GFS", fontsize=7.3, family=MONO, va='center')

fig.add_artist(Line2D([fx(61)], [fyy(657)], ls='none', marker='o', ms=7, mfc='#80c8f0',
                      mec='#4f9ee8', mew=0.7, transform=fig.transFigure))
fig.add_artist(Line2D([fx(61)], [fyy(657)], ls='none', marker='+', ms=4, mec='white',
                      mew=0.6, transform=fig.transFigure))
fig.text(fx(75), fyy(658), "Risque neige (par rapport a tous les scénarios)", fontsize=7.3,
         family=MONO, va='center')

fig.text(fx(374), fyy(651), "20 Perturbations", fontsize=7.3, family=MONO, va='center')
for k, col in enumerate(pert_colors):
    x0 = 476 + 11.05 * k
    fig.add_artist(Rectangle((fx(x0), fyy(656)), 10 / W, 6 / H, facecolor=col,
                             edgecolor='none', transform=fig.transFigure))
    fig.text(fx(x0 + 5), fyy(643), f"{k + 1:02d}", fontsize=5.0, family=MONO,
             ha='center', va='center')

fig.add_artist(Rectangle((fx(20), fyy(699)), 424 / W, 32 / H, facecolor='none',
                         edgecolor='black', lw=1.0, transform=fig.transFigure))
fig.text(fx(30), fyy(677), "Diagramme des ensembles GEFS sur 384h : 52.1N 5.5E",
         fontsize=8.2, family=MONO, weight='bold', va='center')
fig.text(fx(30), fyy(692), "Températures 850hPa et 500hPa (°C) , précipitations (mm)",
         fontsize=7.2, family=MONO, va='center')
fig.text(fx(455), fyy(673), "Ensemble GEFS du 15/01/2012 - 18h", fontsize=7.3,
         family=MONO, va='center')
fig.text(fx(455), fyy(692), "Copyright 2012 Meteociel.fr", fontsize=8.3, family=MONO,
         weight='bold', va='center')

fig.savefig("out.png", dpi=100)
